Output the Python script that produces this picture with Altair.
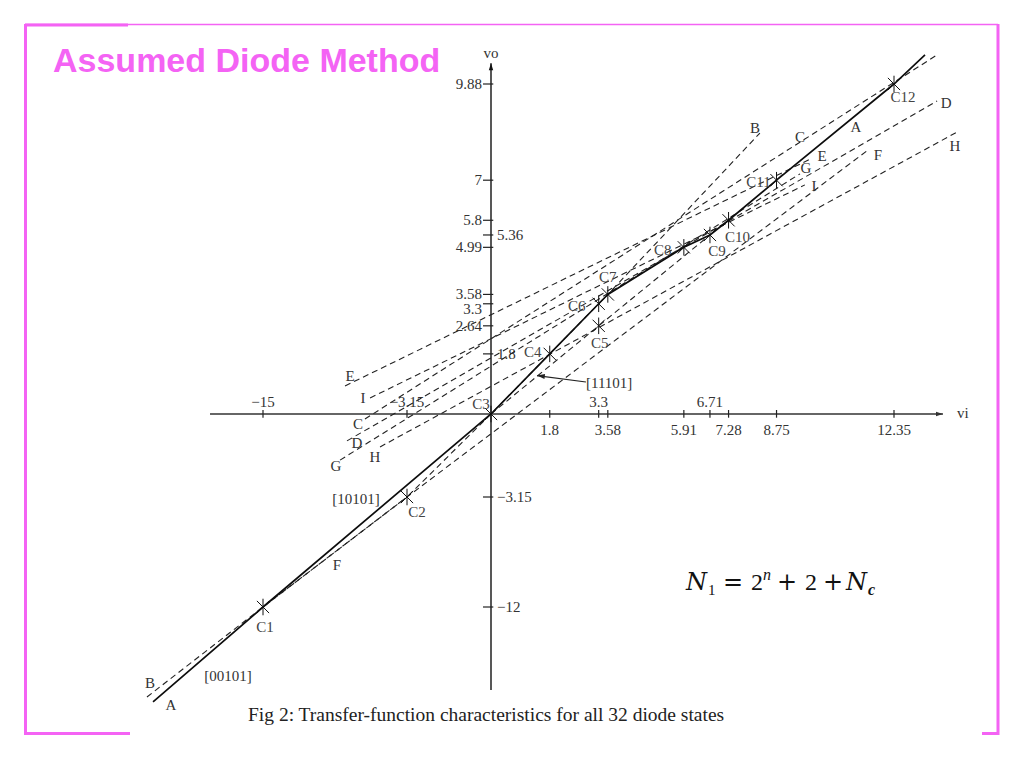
import altair as alt
import pandas as pd

# ------------------------------------------------------------------ data
# crossing points (vi, vo)
pt_names = ["C1", "C2", "C3", "C4", "C5", "C6", "C7", "C8", "C9", "C10", "C11", "C12"]
pt_vi = [-15, -3.15, 0, 1.8, 3.3, 3.3, 3.58, 5.91, 6.71, 7.28, 8.75, 12.35]
pt_vo = [-12, -3.15, 0, 1.8, 2.64, 3.3, 3.58, 4.99, 5.36, 5.8, 7, 9.88]

# transfer characteristic (solid) and the other diode-state lines (dashed)
A_vi = [-24.05, -15, 0, 1.8, 3.3, 3.58, 5.91, 6.71, 7.28, 8.75, 12.35, 13.30]
A_vo = [-19.64, -12, 0, 1.8, 3.3, 3.58, 4.99, 5.36, 5.8, 7, 9.88, 10.75]
B_vi = [-24.55, -15, -3.15, 0, 3.58, 8.24]
B_vo = [-19.24, -12, -3.15, 0, 3.58, 8.41]
C_vi = [-6.61, 13.67]
C_vo = [-0.19, 10.75]
D_vi = [-8.09, 13.67]
D_vo = [-1.02, 9.37]
E_vi = [-8.25, 9.84]
E_vo = [0.84, 7.66]
F_vi = [-15, -3.15, 11.55]
F_vo = [-12, -3.15, 7.90]
G_vi = [-8.66, 9.47]
G_vo = [-1.75, 7.19]
H_vi = [-5.37, 14.28]
H_vo = [-1.25, 8.44]
I_vi = [-6.19, 9.62]
I_vo = [0.48, 6.86]
K_vi = [0, 3.3, 6.71]
K_vo = [0, 2.64, 5.36]

# axes extent and ticks
x_axis_vi = [-19.36, 13.85]
y_axis_vo = [-18.68, 10.5]
x_ticks_below = [1.8, 3.58, 5.91, 7.28, 8.75, 12.35]
x_ticks_above = [-15, -3.15, 3.3, 6.71]
y_ticks_left = [9.88, 7, 5.8, 4.99, 3.58, 3.3, 2.64]
y_ticks_right = [5.36, 1.8, -3.15, -12]

# arrow to segment [11101]
arrow_vi = [2.91, 1.41]
arrow_vo = [0.96, 1.15]

# ------------------------------------------------------------------ style
MAGENTA = "#F463F4"
SERIF = "Liberation Serif"
XS = alt.Scale(domain=[-15, -3.15, 0, 12.35], range=[255, 399, 483, 886], zero=False, nice=False)
YS = alt.Scale(domain=[-12, -3.15, 0, 9.88], range=[599, 489, 406, 76], zero=False, nice=False)


def X():
    return alt.X("vi:Q", scale=XS, axis=None)


def Y():
    return alt.Y("vo:Q", scale=YS, axis=None)


def fmt(v):
    return f"{v:g}".replace("-", "\u2212")


layers = []

# axes
layers.append(alt.Chart(pd.DataFrame({"vi": x_axis_vi, "vo": [0, 0]}))
              .mark_line(color="#333", strokeWidth=1.5).encode(x=X(), y=Y()))
layers.append(alt.Chart(pd.DataFrame({"vi": [0, 0], "vo": y_axis_vo}))
              .mark_line(color="#111", strokeWidth=1.4).encode(x=X(), y=Y()))
layers.append(alt.Chart(pd.DataFrame({"vi": [x_axis_vi[1]], "vo": [0]}))
              .mark_point(shape="M0,0L-2.2,-0.7L-2.2,0.7Z", size=40, filled=True, color="#333", opacity=1)
              .encode(x=X(), y=Y()))
layers.append(alt.Chart(pd.DataFrame({"vi": [0], "vo": [y_axis_vo[1]]}))
              .mark_point(shape="M0,0L-0.7,2.2L0.7,2.2Z", size=40, filled=True, color="#111", opacity=1)
              .encode(x=X(), y=Y()))
layers.append(alt.Chart(pd.DataFrame({"vi": [x_axis_vi[1]], "vo": [0], "t": ["vi"]}))
              .mark_text(dx=20, dy=-1, font=SERIF, fontSize=15, color="#333")
              .encode(x=X(), y=Y(), text="t:N"))
layers.append(alt.Chart(pd.DataFrame({"vi": [0], "vo": [y_axis_vo[1]], "t": ["vo"]}))
              .mark_text(dy=-10, font=SERIF, fontSize=15, color="#333")
              .encode(x=X(), y=Y(), text="t:N"))

# ticks
xt = pd.DataFrame({"vi": x_ticks_below + x_ticks_above})
layers.append(alt.Chart(xt).transform_calculate(vo="-0.14", vo2="0.12")
              .mark_rule(color="#222", strokeWidth=1.2)
              .encode(x=X(), y=Y(), y2="vo2:Q"))
yt = pd.DataFrame({"vo": y_ticks_left + y_ticks_right})
layers.append(alt.Chart(yt).transform_calculate(vi="-0.3", vi2="0.07")
              .mark_rule(color="#222", strokeWidth=1.2)
              .encode(y=Y(), x=X(), x2="vi2:Q"))

# tick labels
layers.append(alt.Chart(pd.DataFrame({"vi": x_ticks_below, "t": [fmt(v) for v in x_ticks_below]}))
              .transform_calculate(vo="0")
              .mark_text(dy=16, font=SERIF, fontSize=15, color="#333")
              .encode(x=X(), y=Y(), text="t:N"))
layers.append(alt.Chart(pd.DataFrame({"vi": x_ticks_above, "t": [fmt(v) for v in x_ticks_above]}))
              .transform_calculate(vo="0")
              .mark_text(dy=-12, font=SERIF, fontSize=15, color="#333")
              .encode(x=X(), y=Y(), text="t:N"))
for v in y_ticks_left:
    layers.append(alt.Chart(pd.DataFrame({"vo": [v], "vi": [0], "t": [fmt(v)]}))
                  .mark_text(align="right", dx=-9, dy=(5 if v == 3.3 else 0), font=SERIF, fontSize=15, color="#333")
                  .encode(x=X(), y=Y(), text="t:N"))
layers.append(alt.Chart(pd.DataFrame({"vo": y_ticks_right, "vi": [0] * len(y_ticks_right),
                                      "t": [fmt(v) for v in y_ticks_right]}))
              .mark_text(align="left", dx=6, font=SERIF, fontSize=15, color="#333")
              .encode(x=X(), y=Y(), text="t:N"))

# dashed lines
dashed = {"B": (B_vi, B_vo), "C": (C_vi, C_vo), "D": (D_vi, D_vo), "E": (E_vi, E_vo),
          "F": (F_vi, F_vo), "G": (G_vi, G_vo), "H": (H_vi, H_vo), "I": (I_vi, I_vo),
          "K": (K_vi, K_vo)}
rows = []
for name, (vis, vos) in dashed.items():
    for i, (a, b) in enumerate(zip(vis, vos)):
        rows.append({"line": name, "i": i, "vi": a, "vo": b})
layers.append(alt.Chart(pd.DataFrame(rows))
              .mark_line(strokeDash=[6, 4], strokeWidth=1.1, color="#222")
              .encode(x=X(), y=Y(), detail="line:N", order="i:Q"))

# solid transfer characteristic
layers.append(alt.Chart(pd.DataFrame({"vi": A_vi, "vo": A_vo, "i": list(range(len(A_vi)))}))
              .mark_line(strokeWidth=1.7, color="#0d0d0d")
              .encode(x=X(), y=Y(), order="i:Q"))

# arrow
layers.append(alt.Chart(pd.DataFrame({"vi": arrow_vi, "vo": arrow_vo, "i": [0, 1]}))
              .mark_line(strokeWidth=1.1, color="#222").encode(x=X(), y=Y(), order="i:Q"))
layers.append(alt.Chart(pd.DataFrame({"vi": [arrow_vi[1]], "vo": [arrow_vo[1]]}))
              .mark_point(shape="M0,0L2.2,-0.7L2.2,0.7Z", size=50, angle=7, filled=True, color="#222", opacity=1)
              .encode(x=X(), y=Y()))

# crossing markers
pts = pd.DataFrame({"vi": pt_vi, "vo": pt_vo, "name": pt_names})
layers.append(alt.Chart(pts)
              .mark_point(shape="M-1,-1L1,1M-1,1L1,-1M0,-1.35L0,1.35", size=150, filled=False,
                          stroke="#111", strokeWidth=1, opacity=1)
              .encode(x=X(), y=Y()))
C_dx = [2, 10, -10, -17, 1, -22, 0, -21, 7, 9, -18, 9]
C_dy = [20, 15, -10, -2, 17, 2, -17, 3, 16, 17, 2, 13]
for k, name in enumerate(pt_names):
    layers.append(alt.Chart(pts.iloc[[k]])
                  .mark_text(dx=C_dx[k], dy=C_dy[k], font=SERIF, fontSize=15, color="#444")
                  .encode(x=X(), y=Y(), text="name:N"))

# line labels anchored to line vertices
allines = {"A": (A_vi, A_vo), "B": (B_vi, B_vo), "C": (C_vi, C_vo), "D": (D_vi, D_vo),
           "E": (E_vi, E_vo), "F": (F_vi, F_vo), "G": (G_vi, G_vo), "H": (H_vi, H_vo), "I": (I_vi, I_vo)}
line_labels = [
    ("A", "A", 0, 18, 3), ("A", "A", 10, -38, 43),
    ("B", "B", 0, 3, -14), ("B", "B", 5, -5, -5),
    ("C", "C", 0, -7, 5), ("C", "C", 1, -137, 82),
    ("D", "D", 0, 10, 2), ("D", "D", 1, 9, 2),
    ("E", "E", 0, 5, -10), ("E", "E", 1, 10, -2),
    ("F", "F", 0, 74, -42), ("F", "F", 2, 10, 5),
    ("G", "G", 0, -4, 6), ("G", "G", 1, 6, -6),
    ("H", "H", 0, -5, 10), ("H", "H", 1, -2, 14),
    ("I", "I", 0, -7, 0), ("I", "I", 1, 9, 1),
    ("[00101]", "A", 0, 75, -26), ("[10101]", "F", 1, -51, 2),
]
for text, ln, idx, dx, dy in line_labels:
    vis, vos = allines[ln]
    layers.append(alt.Chart(pd.DataFrame({"vi": [vis[idx]], "vo": [vos[idx]], "t": [text]}))
                  .mark_text(dx=dx, dy=dy, font=SERIF, fontSize=15, color="#333")
                  .encode(x=X(), y=Y(), text="t:N"))
layers.append(alt.Chart(pd.DataFrame({"vi": [arrow_vi[0]], "vo": [arrow_vo[0]], "t": ["[11101]"]}))
              .mark_text(align="left", dy=1, font=SERIF, fontSize=15, color="#333")
              .encode(x=X(), y=Y(), text="t:N"))

# ------------------------------------------------------------------ slide decoration
one = pd.DataFrame({"k": [0]})


def hrule(x1, x2, y, w):
    return alt.Chart(one).mark_rule(color=MAGENTA, strokeWidth=w).encode(
        x=alt.value(x1), x2=alt.value(x2), y=alt.value(y))


def vrule(x, y1, y2, w):
    return alt.Chart(one).mark_rule(color=MAGENTA, strokeWidth=w).encode(
        x=alt.value(x), y=alt.value(y1), y2=alt.value(y2))


layers += [hrule(17, 990, 16.5, 1.5), hrule(17, 120, 17, 3), vrule(17.5, 16, 727, 3),
           vrule(990, 16, 727, 3), hrule(17, 122, 725.5, 3), hrule(974, 991, 725.5, 3)]


def label(text, x, y, size, **kw):
    return alt.Chart(one).mark_text(text=text, align="left", baseline="alphabetic",
                                    fontSize=size, **kw).encode(x=alt.value(x), y=alt.value(y))


layers.append(label("Assumed Diode Method", 45, 64, 34, font="Liberation Sans",
                    fontWeight="bold", color=MAGENTA))
layers.append(label("Fig 2: Transfer-function characteristics for all 32 diode states",
                    240, 713, 19.5, font=SERIF, color="#222"))
eq = [("N", 678, 582, 24, "DejaVu Serif", "italic", "normal"),
      ("1", 700, 587, 15, SERIF, "normal", "normal"),
      ("=", 715, 582, 24, "DejaVu Serif", "normal", "normal"),
      ("2", 743, 582, 24, SERIF, "normal", "normal"),
      ("n", 755, 572, 16, SERIF, "italic", "normal"),
      ("+", 769, 582, 24, "DejaVu Serif", "normal", "normal"),
      ("2", 797, 582, 24, SERIF, "normal", "normal"),
      ("+", 815, 582, 24, "DejaVu Serif", "normal", "normal"),
      ("N", 838, 582, 24, "DejaVu Serif", "italic", "normal"),
      ("c", 860, 587, 16, SERIF, "italic", "bold")]
for t, x, y, s, f, st, wt in eq:
    layers.append(label(t, x, y, s, font=f, fontStyle=st, fontWeight=wt, color="#111"))

chart = alt.layer(*layers).properties(
    width=1008, height=752, padding=0,
    autosize=alt.AutoSizeParams(type="none"),
).configure_view(stroke=None)

chart.save("out.html", embed_options={"renderer": "svg", "actions": False})
